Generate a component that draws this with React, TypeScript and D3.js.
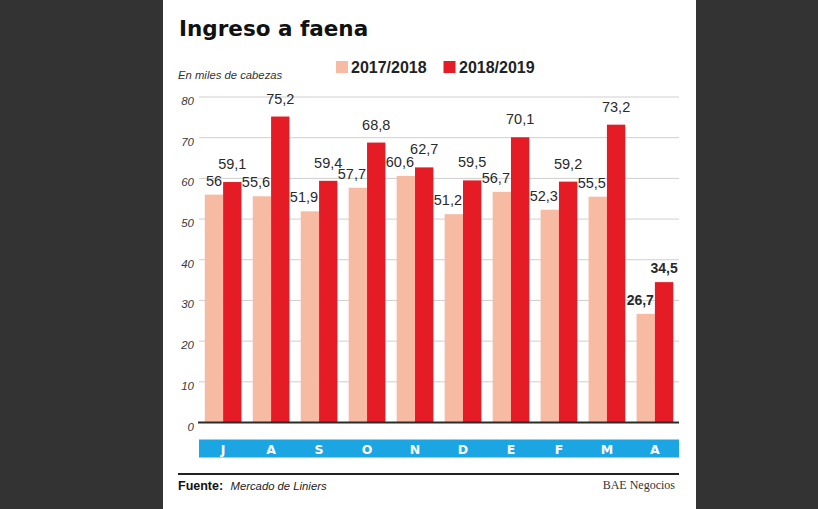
import * as d3 from 'd3'

const months = ['J', 'A', 'S', 'O', 'N', 'D', 'E', 'F', 'M', 'A']
const prev = [56, 55.6, 51.9, 57.7, 60.6, 51.2, 56.7, 52.3, 55.5, 26.7]
const curr = [59.1, 75.2, 59.4, 68.8, 62.7, 59.5, 70.1, 59.2, 73.2, 34.5]
const yTicks = [0, 10, 20, 30, 40, 50, 60, 70, 80]
const seriesNames = ['2017/2018', '2018/2019']

const LIGHT = '#f7bba3'
const RED = '#e51c25'
const BLUE = '#1ba6e3'

const fmt = (v: number) => String(v).replace('.', ',')

export default function App() {
  const W = 818
  const H = 509
  const left = 199
  const right = 679

  const idx = months.map((_, i) => i)
  const x = d3.scaleBand<number>()
    .domain(idx)
    .range([left, right])
    .paddingInner(0.235)
    .paddingOuter(0.12)
  const half = x.bandwidth() / 2

  const y = d3.scaleLinear().domain([0, 80]).range([422.5, 97])

  const last = months.length - 1

  return (
    <div style={{ position: 'fixed', left: 0, top: 0 }}>
      <svg width={W} height={H} style={{ display: 'block' }}>
        <rect x={0} y={0} width={W} height={H} fill="#333333" />
        <rect x={163} y={0} width={533} height={H} fill="#ffffff" />

        <text x={179} y={36} fontFamily="DejaVu Sans" fontWeight="bold" fontSize={21.5} fill="#111">
          Ingreso a faena
        </text>

        {/* legend */}
        <rect x={336} y={61} width={12} height={12} fill={LIGHT} />
        <text x={351} y={72.5} fontFamily="Liberation Sans, Arial" fontWeight="bold" fontSize={16} fill="#222">
          {seriesNames[0]}
        </text>
        <rect x={443.5} y={61} width={12} height={12} fill={RED} />
        <text x={459} y={72.5} fontFamily="Liberation Sans, Arial" fontWeight="bold" fontSize={16} fill="#222">
          {seriesNames[1]}
        </text>

        <text x={178} y={79} fontFamily="Liberation Sans, Arial" fontStyle="italic" fontSize={11.3} fill="#333">
          En miles de cabezas
        </text>

        {/* grid + y ticks */}
        {yTicks.map(t => (
          <g key={t}>
            {t > 0 && (
              <line x1={left} x2={right} y1={y(t)} y2={y(t)} stroke="#cfcfcf" strokeWidth={1} />
            )}
            <text
              x={194}
              y={y(t) + 8}
              textAnchor="end"
              fontFamily="Liberation Sans, Arial"
              fontStyle="italic"
              fontSize={11.5}
              fill="#3a3a3a"
            >
              {t}
            </text>
          </g>
        ))}

        {/* bars */}
        {idx.map(i => {
          const x0 = x(i)!
          return (
            <g key={i}>
              <rect x={x0} y={y(prev[i])} width={half} height={y(0) - y(prev[i])} fill={LIGHT} />
              <rect x={x0 + half} y={y(curr[i])} width={half} height={y(0) - y(curr[i])} fill={RED} />
            </g>
          )
        })}

        {/* value labels */}
        {idx.map(i => {
          const x0 = x(i)!
          const bold = i === last
          return (
            <g
              key={'l' + i}
              fontFamily="Liberation Sans, Arial"
              fontSize={bold ? 14 : 14.5}
              fontWeight={bold ? 'bold' : 'normal'}
              fill="#2a2a2a"
            >
              <text x={x0 + half - 1} y={y(prev[i]) - 9} textAnchor="end">
                {fmt(prev[i])}
              </text>
              <text x={x0 + half * 1.5} y={y(curr[i]) - (bold ? 9 : 13)} textAnchor="middle">
                {fmt(curr[i])}
              </text>
            </g>
          )
        })}

        <line x1={left - 1} x2={right} y1={y(0)} y2={y(0)} stroke="#2b2b2b" strokeWidth={2} />

        {/* month band */}
        <rect x={left} y={439.5} width={right - left} height={18} fill={BLUE} />
        {idx.map(i => (
          <text
            key={'m' + i}
            x={x(i)! + x.bandwidth() / 2}
            y={453.8}
            textAnchor="middle"
            fontFamily="DejaVu Sans"
            fontWeight="bold"
            fontSize={12.5}
            fill="#ffffff"
          >
            {months[i]}
          </text>
        ))}

        {/* footer */}
        <line x1={178} x2={right} y1={474} y2={474} stroke="#222" strokeWidth={2} />
        <text x={178} y={489.5} fontFamily="Liberation Sans, Arial" fontWeight="bold" fontSize={12.5} fill="#111">
          Fuente:
        </text>
        <text x={230.5} y={489.5} fontFamily="Liberation Sans, Arial" fontStyle="italic" fontSize={11.3} fill="#222">
          Mercado de Liniers
        </text>
        <text x={675} y={489} textAnchor="end" fontFamily="Liberation Serif, Times New Roman, serif" fontSize={12} fill="#333">
          BAE Negocios
        </text>
      </svg>
    </div>
  )
}
